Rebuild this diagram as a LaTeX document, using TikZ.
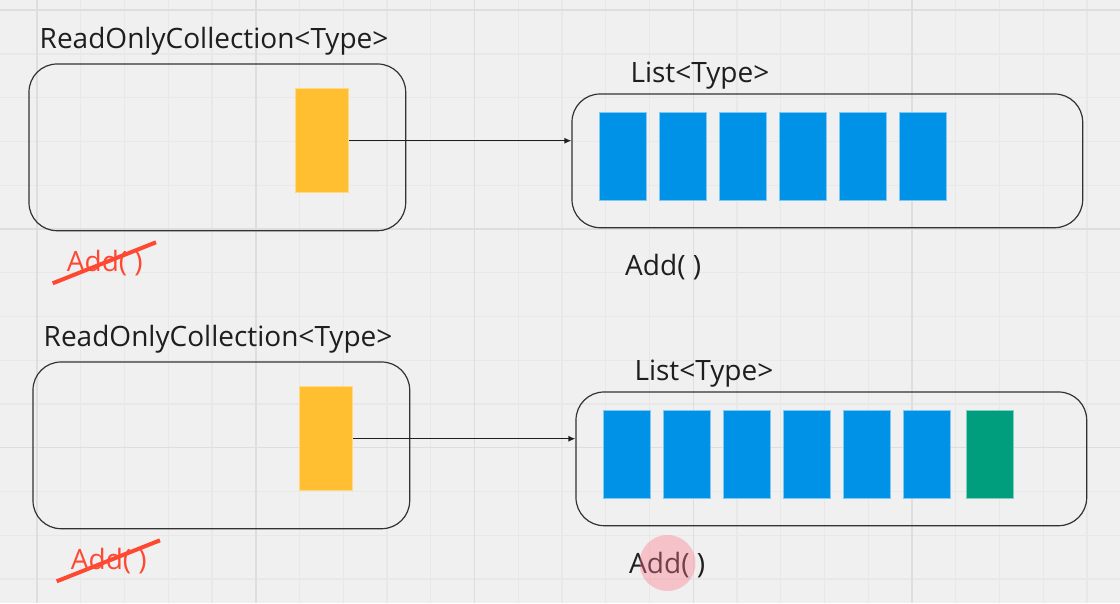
\documentclass[tikz,border=0pt]{standalone}
\usepackage{fontspec}
\setmainfont{Open Sans}
\usetikzlibrary{arrows.meta}
\definecolor{board}{RGB}{240,240,240}
\definecolor{gridminor}{RGB}{232,232,232}
\definecolor{gridmajor}{RGB}{222,222,222}
\definecolor{ink}{RGB}{30,30,30}
\definecolor{frame}{RGB}{50,50,50}
\definecolor{elemyellow}{RGB}{255,191,49}
\definecolor{elemblue}{RGB}{0,146,230}
\definecolor{elemgreen}{RGB}{0,158,125}
\definecolor{strike}{RGB}{255,72,50}
\definecolor{highlight}{RGB}{255,120,140}

\begin{document}
\begin{tikzpicture}[x=1pt, y=-1pt,
  caption/.style={inner sep=0pt, anchor=base west, text=ink, font=\fontsize{28}{34}\selectfont},
  container/.style={draw=frame, line width=1.2pt, rounded corners=28pt, inner sep=0pt},
  refcell/.style={fill=elemyellow, draw=elemyellow!60!white, line width=0.8pt, minimum width=53pt, minimum height=104pt, inner sep=0pt},
  item/.style={fill=elemblue, draw=elemblue!50!white, line width=0.8pt},
  link/.style={draw=ink, line width=1.2pt, -{Latex[length=7pt,width=6pt]}},
  crossout/.style={draw=strike, line width=4pt}]
\useasboundingbox (0,0) rectangle (1120,603);
\fill[board] (0,0) rectangle (1120,603);

% board grid
\foreach \i in {0,...,26}
    \draw[gridminor, line width=1.3pt] ({-6.75+43.75*\i},0) -- ++(0,603);
\foreach \i in {0,...,13}
    \draw[gridminor, line width=1.3pt] (0,{10.2+43.75*\i}) -- ++(1120,0);
\foreach \i in {0,...,5}
    \draw[gridmajor, line width=1.5pt] ({37+218.75*\i},0) -- ++(0,603);
\foreach \i in {0,...,2}
    \draw[gridmajor, line width=1.5pt] (0,{10.2+218.75*\i}) -- ++(1120,0);

% first row
\node[caption] (rotitle1) at (39.5,48) {ReadOnlyCollection<Type>};
\node[container, minimum width=376.7pt, minimum height=166.7pt] (ro1) at (217.35,147.35) {};
\node[refcell] (ref1) at (322.35,140.7) {};
\node[caption] (lstitle1) at (630.3,82) {List<Type>};
\node[container, minimum width=510.7pt, minimum height=133.7pt] (ls1) at (827.35,160.85) {};
\foreach \i in {0,...,5}
    \draw[item] ({599.5+60*\i},112.5) rectangle ++(47,88);
\draw[link] (ref1.east) -- (ref1.east -| ls1.west);
\node[caption, text=strike] (noadd1) at (66.7,271.7) {Add( )};
\draw[crossout] (52.7,283.3) -- (156,242.3);
\node[caption] (add1) at (625,275) {Add( )};

% second row
\node[caption] (rotitle2) at (43.5,346) {ReadOnlyCollection<Type>};
\node[container, minimum width=376.7pt, minimum height=166.7pt] (ro2) at (221.35,445.35) {};
\node[refcell] (ref2) at (326.35,438.7) {};
\node[caption] (lstitle2) at (634.3,380) {List<Type>};
\node[container, minimum width=510.7pt, minimum height=133.7pt] (ls2) at (831.35,458.85) {};
\foreach \i in {0,...,5}
    \draw[item] ({603.5+60*\i},410.5) rectangle ++(47,88);
\draw[fill=elemgreen, draw=elemgreen!50!white, line width=0.8pt] (966,410.5) rectangle ++(47,88);
\draw[link] (ref2.east) -- (ref2.east -| ls2.west);
\node[caption, text=strike] (noadd2) at (70.7,569.7) {Add( )};
\draw[crossout] (56.7,581.3) -- (160,540.3);
\node[caption] (add2) at (629,573) {Add( )};
\fill[highlight, fill opacity=0.38] (667.5,563) circle (28pt);
\end{tikzpicture}
\end{document}
